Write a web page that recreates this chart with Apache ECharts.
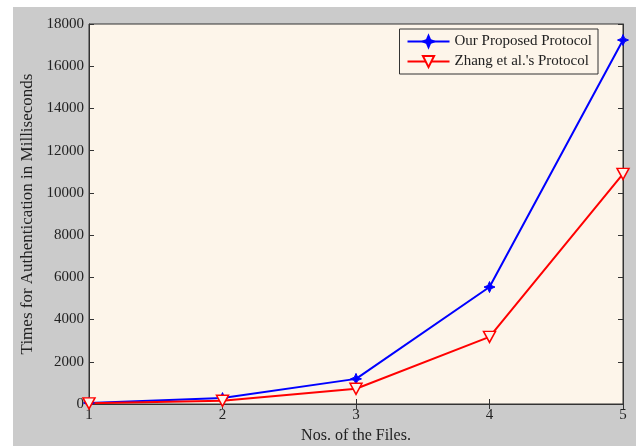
<!DOCTYPE html>
<html><head><meta charset="utf-8">
<script src="https://cdn.jsdelivr.net/npm/echarts@6/dist/echarts.min.js"></script>
<style>html,body{margin:0;padding:0;background:#fff}#c{width:636px;height:446px}</style>
</head><body><div id="c"></div>
<script>
var files = [1, 2, 3, 4, 5];
var proposed = [50, 280, 1190, 5540, 17240];
var zhang = [30, 150, 720, 3180, 10900];
var names = ["Our Proposed Protocol", "Zhang et al.'s Protocol"];
var xName = "Nos. of the Files.";
var yName = "Times for Authentication in Milliseconds";

var font = "'Liberation Serif', 'DejaVu Serif', serif";
var chart = echarts.init(document.getElementById('c'));
function pairs(v){ return files.map(function(x,i){ return [x, v[i]]; }); }
var tickInside = {show:true, inside:true, length:5, lineStyle:{color:'#333', width:1}};
chart.setOption({
  animation:false,
  backgroundColor:'#fff',
  graphic:[{type:'rect', shape:{x:13,y:7,width:623,height:439}, style:{fill:'#cbcbcb'}, z:-10, silent:true}],
  grid:{left:89, right:13, top:24, bottom:42, outerBoundsMode:'none', containLabel:false, show:true, backgroundColor:'#fdf5ea', borderColor:'#333', borderWidth:1},
  legend:{
    data:names, orient:'vertical', right:38, top:29, padding:[5,6,5,7], itemGap:5,
    itemWidth:42, itemHeight:14, backgroundColor:'#fdf5ea', borderColor:'#333', borderWidth:1,
    textStyle:{fontFamily:font, fontSize:15, color:'#222'}
  },
  xAxis:[{
    type:'value', min:1, max:5, interval:1, name:xName, nameLocation:'middle', nameGap:23,
    nameTextStyle:{fontFamily:font, fontSize:16, color:'#222'},
    axisLine:{show:true, onZero:false, lineStyle:{color:'#333'}}, axisTick:tickInside, splitLine:{show:false},
    axisLabel:{fontFamily:font, fontSize:15, color:'#222', margin:4, formatter:function(v){return String(v);}}
  },{
    type:'value', min:1, max:5, interval:1, position:'top',
    axisLine:{show:true, lineStyle:{color:'#333'}}, axisTick:tickInside, splitLine:{show:false}, axisLabel:{show:false}
  }],
  yAxis:[{
    type:'value', min:0, max:18000, interval:2000, name:yName, nameLocation:'middle', nameGap:53,
    nameTextStyle:{fontFamily:font, fontSize:17, color:'#222'},
    axisLine:{show:true, onZero:false, lineStyle:{color:'#333'}}, axisTick:tickInside, splitLine:{show:false},
    axisLabel:{fontFamily:font, fontSize:15, color:'#222', margin:5, formatter:function(v){return String(v);}}
  },{
    type:'value', min:0, max:18000, interval:2000, position:'right',
    axisLine:{show:true, lineStyle:{color:'#333'}}, axisTick:tickInside, splitLine:{show:false}, axisLabel:{show:false}
  }],
  series:[{
    name:names[0], type:'line', data:pairs(proposed),
    symbol:'path://M0,-10 L3,-3 L10,0 L3,3 L0,10 L-3,3 L-10,0 L-3,-3 Z', symbolSize:11,
    lineStyle:{color:'#0000ff', width:2}, itemStyle:{color:'#0000ff', borderColor:'#0000ff', borderWidth:1}
  },{
    name:names[1], type:'line', data:pairs(zhang),
    symbol:'path://M-10,-8 L10,-8 L0,10 Z', symbolSize:[12,11],
    lineStyle:{color:'#ff0000', width:2}, itemStyle:{color:'#fdf5ea', borderColor:'#ff0000', borderWidth:1.5}
  }]
});
</script></body></html>
